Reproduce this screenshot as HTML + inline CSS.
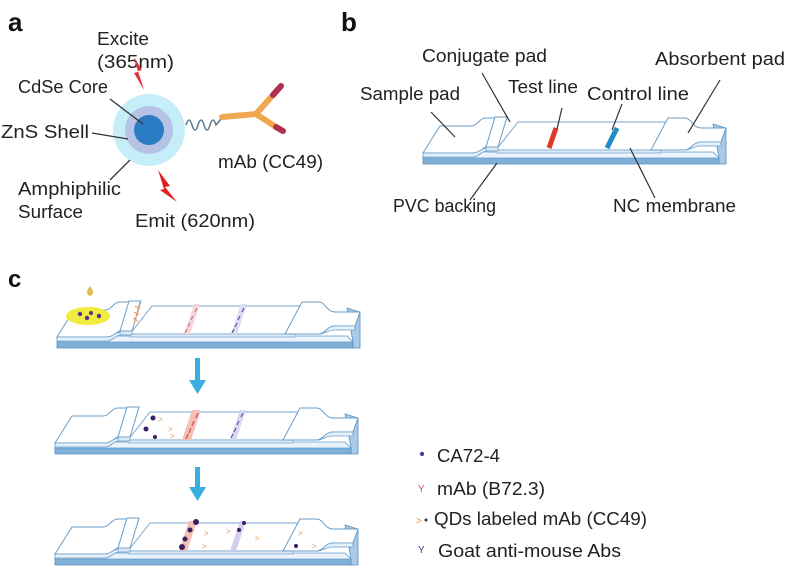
<!DOCTYPE html>
<html><head><style>
body{margin:0;background:#fff}
svg{display:block}
text{font-family:"Liberation Sans",sans-serif;fill:#222}
.l{font-size:18px}
</style></head><body>
<svg width="790" height="577" viewBox="0 0 790 577">
<defs>
<g id="strip">
  <polygon points="0,38 296,38 296,44 0,44" fill="#7fb0d8" stroke="#5a90c0" stroke-width="0.8"/>
  <polygon points="290,4 303,8 303,44 296,44 296,38" fill="#a8cce8" stroke="#5a90c0" stroke-width="0.8"/>
  <polygon points="6,32 290,32 296,38 0,38" fill="#eaf3fb" stroke="#6a9cc8" stroke-width="0.8"/>
  <polygon points="95,2 245,2 238,30 73,30" fill="#fff" stroke="#7aa6d0" stroke-width="1"/>
  <polygon points="73,30 238,30 238,33 73,33" fill="#dbe9f6" stroke="#7aa6d0" stroke-width="0.7"/>
  <path d="M0,33 L17,6 L48,6 C55,6 56,-2 63,-2 L76,-2 L66,26 C60,26 58,33 50,33 Z" fill="#fff" stroke="#6a9cc8" stroke-width="1"/>
  <path d="M0,33 L50,33 C56,33 58,28 64,28 L64,31 C58,31 56,37 50,37 L0,37 Z" fill="#e4f0fa" stroke="#6a9cc8" stroke-width="0.8"/>
  <polygon points="72,-3 84,-3 75,27 63,27" fill="#fff" stroke="#6a9cc8" stroke-width="1"/>
  <polygon points="63,27 75,27 75,31 63,31" fill="#dbe9f6" stroke="#6a9cc8" stroke-width="0.7"/>
  <path d="M245,-2 L262,-2 C268,-2 270,8 278,8 L303,8 L298,22 L278,22 C270,22 268,30 262,30 L228,30 Z" fill="#fff" stroke="#6a9cc8" stroke-width="1"/>
  <path d="M228,30 L262,30 C268,30 270,26 278,26 L298,26 L298,22 L278,22 C270,22 268,30 262,30" fill="#e4f0fa" stroke="#6a9cc8" stroke-width="0.8"/>
</g>
</defs>

<!-- Panel a -->
<text x="8" y="31" font-size="26" font-weight="bold" style="fill:#111">a</text>
<text class="l" x="97" y="45" textLength="52" lengthAdjust="spacingAndGlyphs">Excite</text>
<text class="l" x="97" y="68" textLength="77" lengthAdjust="spacingAndGlyphs">(365nm)</text>
<text class="l" x="18" y="93" textLength="90" lengthAdjust="spacingAndGlyphs">CdSe Core</text>
<text class="l" x="1" y="138" textLength="88" lengthAdjust="spacingAndGlyphs">ZnS Shell</text>
<text class="l" x="18" y="195" textLength="103" lengthAdjust="spacingAndGlyphs">Amphiphilic</text>
<text class="l" x="18" y="218" textLength="65" lengthAdjust="spacingAndGlyphs">Surface</text>
<text class="l" x="135" y="227" textLength="120" lengthAdjust="spacingAndGlyphs">Emit (620nm)</text>
<text class="l" x="218" y="168" textLength="105" lengthAdjust="spacingAndGlyphs">mAb (CC49)</text>
<circle cx="149" cy="130" r="36" fill="#c6eef8"/>
<circle cx="149" cy="130" r="24" fill="#b6c2e6"/>
<circle cx="149" cy="130" r="15" fill="#2b7cc2"/>
<line x1="110" y1="99" x2="143" y2="124" stroke="#333" stroke-width="1.3"/>
<line x1="92" y1="133" x2="128" y2="139" stroke="#333" stroke-width="1.3"/>
<line x1="110" y1="180" x2="130" y2="160" stroke="#333" stroke-width="1.3"/>
<polygon points="134,57 142,70 138,71 144,90 134,73 138,72" fill="#e03040"/>
<polygon points="158,170 170,186 165,187 177,202 160,190 164,189" fill="#e52020"/>
<path d="M186,125 q3,-10 6,0 q3,10 6,0 q3,-10 6,0 q3,10 6,0 q3,-10 6,0 l5,-6" fill="none" stroke="#5a7890" stroke-width="1.5"/>
<g stroke-linecap="round">
<line x1="222" y1="117" x2="256" y2="114" stroke="#f0a850" stroke-width="6"/>
<line x1="256" y1="114" x2="273" y2="95" stroke="#f0a850" stroke-width="6"/>
<line x1="256" y1="114" x2="276" y2="127" stroke="#f0a850" stroke-width="6"/>
<line x1="273" y1="95" x2="281" y2="86" stroke="#b03050" stroke-width="6"/>
<line x1="276" y1="127" x2="283" y2="131" stroke="#b03050" stroke-width="6"/>
</g>

<!-- Panel b -->
<text x="341" y="31" font-size="26" font-weight="bold" style="fill:#111">b</text>
<text class="l" x="422" y="62" textLength="125" lengthAdjust="spacingAndGlyphs">Conjugate pad</text>
<text class="l" x="360" y="100" textLength="100" lengthAdjust="spacingAndGlyphs">Sample pad</text>
<text class="l" x="508" y="93" textLength="70" lengthAdjust="spacingAndGlyphs">Test line</text>
<text class="l" x="587" y="100" textLength="102" lengthAdjust="spacingAndGlyphs">Control line</text>
<text class="l" x="655" y="65" textLength="130" lengthAdjust="spacingAndGlyphs">Absorbent pad</text>
<text class="l" x="393" y="212" textLength="103" lengthAdjust="spacingAndGlyphs">PVC backing</text>
<text class="l" x="613" y="212" textLength="123" lengthAdjust="spacingAndGlyphs">NC membrane</text>
<use href="#strip" transform="translate(423,120)"/>
<line x1="556" y1="128" x2="549" y2="148" stroke="#e03a2a" stroke-width="5"/>
<line x1="617" y1="128" x2="607" y2="148" stroke="#1f8cc8" stroke-width="5"/>
<g stroke="#333" stroke-width="1.2">
<line x1="431" y1="112" x2="455" y2="137"/>
<line x1="482" y1="73" x2="510" y2="122"/>
<line x1="562" y1="108" x2="557" y2="129"/>
<line x1="622" y1="104" x2="612" y2="130"/>
<line x1="720" y1="80" x2="688" y2="133"/>
<line x1="470" y1="200" x2="497" y2="163"/>
<line x1="655" y1="198" x2="630" y2="148"/>
</g>

<!-- Panel c -->
<text x="8" y="287" font-size="24" font-weight="bold" style="fill:#111">c</text>
<use href="#strip" transform="translate(57,304)"/>
<use href="#strip" transform="translate(55,410)"/>
<use href="#strip" transform="translate(55,521)"/>

<path d="M90,286 q-6,8 0,10 q6,-2 0,-10z" fill="#e8b850"/>
<ellipse cx="88" cy="316" rx="22" ry="9" fill="#f0ec40"/>
<g fill="#5a3080"><circle cx="80" cy="314" r="2.2"/><circle cx="87" cy="318" r="2.2"/><circle cx="91" cy="313" r="2"/><circle cx="99" cy="316" r="2.2"/></g>
<g stroke="#e0a070" stroke-width="1.2" fill="none"><path d="M140,302 l-6,22"/><path d="M135,306 l5,3"/><path d="M134,312 l5,3"/><path d="M133,318 l5,3"/></g>
<polygon points="194,304 200,304 190,334 184,334" fill="#f6d8dc"/>
<polygon points="241,304 247,304 237,334 231,334" fill="#dcdcf4"/>
<g stroke="#d07080" stroke-width="1.2"><path d="M197,308 l-2,4"/><path d="M193,316 l-2,4"/><path d="M190,323 l-2,4"/><path d="M187,329 l-2,4"/></g>
<g stroke="#6050a0" stroke-width="1.2"><path d="M244,308 l-2,4"/><path d="M240,316 l-2,4"/><path d="M237,323 l-2,4"/><path d="M234,329 l-2,4"/></g>

<g fill="#3a2060"><circle cx="153" cy="418" r="2.5"/><circle cx="146" cy="429" r="2.5"/><circle cx="155" cy="437" r="2"/></g>
<g font-size="8"><text x="158" y="422" style="fill:#e09850">&gt;</text><text x="168" y="432" style="fill:#e09850">&gt;</text><text x="170" y="439" style="fill:#e09850">&gt;</text></g>
<polygon points="192,410 201,410 191,440 182,440" fill="#f4c0b8"/>
<polygon points="240,410 246,410 236,440 230,440" fill="#d8d8f2"/>
<g stroke="#d06050" stroke-width="1.4"><path d="M198,413 l-2,5"/><path d="M194,421 l-2,5"/><path d="M191,428 l-2,5"/><path d="M188,434 l-2,5"/></g>
<g stroke="#6050a0" stroke-width="1.2"><path d="M243,413 l-2,4"/><path d="M239,421 l-2,4"/><path d="M236,428 l-2,4"/><path d="M233,434 l-2,4"/></g>

<polygon points="189,521 197,521 187,551 179,551" fill="#f4c0b8"/>
<polygon points="240,521 246,521 236,551 230,551" fill="#d0d0f0"/>
<g fill="#3a2060"><circle cx="196" cy="522" r="3"/><circle cx="190" cy="530" r="2.5"/><circle cx="185" cy="539" r="2.5"/><circle cx="182" cy="547" r="3"/><circle cx="239" cy="530" r="2"/><circle cx="244" cy="523" r="2"/><circle cx="296" cy="546" r="2"/></g>
<g font-size="8"><text x="204" y="536" style="fill:#e09850">&gt;</text><text x="202" y="549" style="fill:#e09850">&gt;</text><text x="226" y="534" style="fill:#e09850">&gt;</text><text x="255" y="541" style="fill:#e09850">&gt;</text><text x="298" y="536" style="fill:#e09850">&gt;</text><text x="312" y="549" style="fill:#e09850">&gt;</text></g>

<rect x="195" y="358" width="5" height="23" fill="#3aaee0"/>
<polygon points="189,380 206,380 197.5,394" fill="#3aaee0"/>
<rect x="195" y="467" width="5" height="22" fill="#3aaee0"/>
<polygon points="189,487 206,487 197.5,501" fill="#3aaee0"/>

<circle cx="422" cy="454" r="2.2" fill="#5a3a90"/>
<text class="l" x="437" y="462" textLength="63" lengthAdjust="spacingAndGlyphs">CA72-4</text>
<text x="418" y="492" font-size="10" style="fill:#d05060">Y</text>
<text class="l" x="437" y="495" textLength="108" lengthAdjust="spacingAndGlyphs">mAb (B72.3)</text>
<text x="416" y="524" font-size="10" style="fill:#e09850">&gt;</text><circle cx="426" cy="520" r="1.5" fill="#335"/>
<text class="l" x="434" y="525" textLength="213" lengthAdjust="spacingAndGlyphs">QDs labeled mAb (CC49)</text>
<text x="418" y="553" font-size="10" style="fill:#404090">Y</text>
<text class="l" x="438" y="557" textLength="183" lengthAdjust="spacingAndGlyphs">Goat anti-mouse Abs</text>
</svg>
</body></html>
